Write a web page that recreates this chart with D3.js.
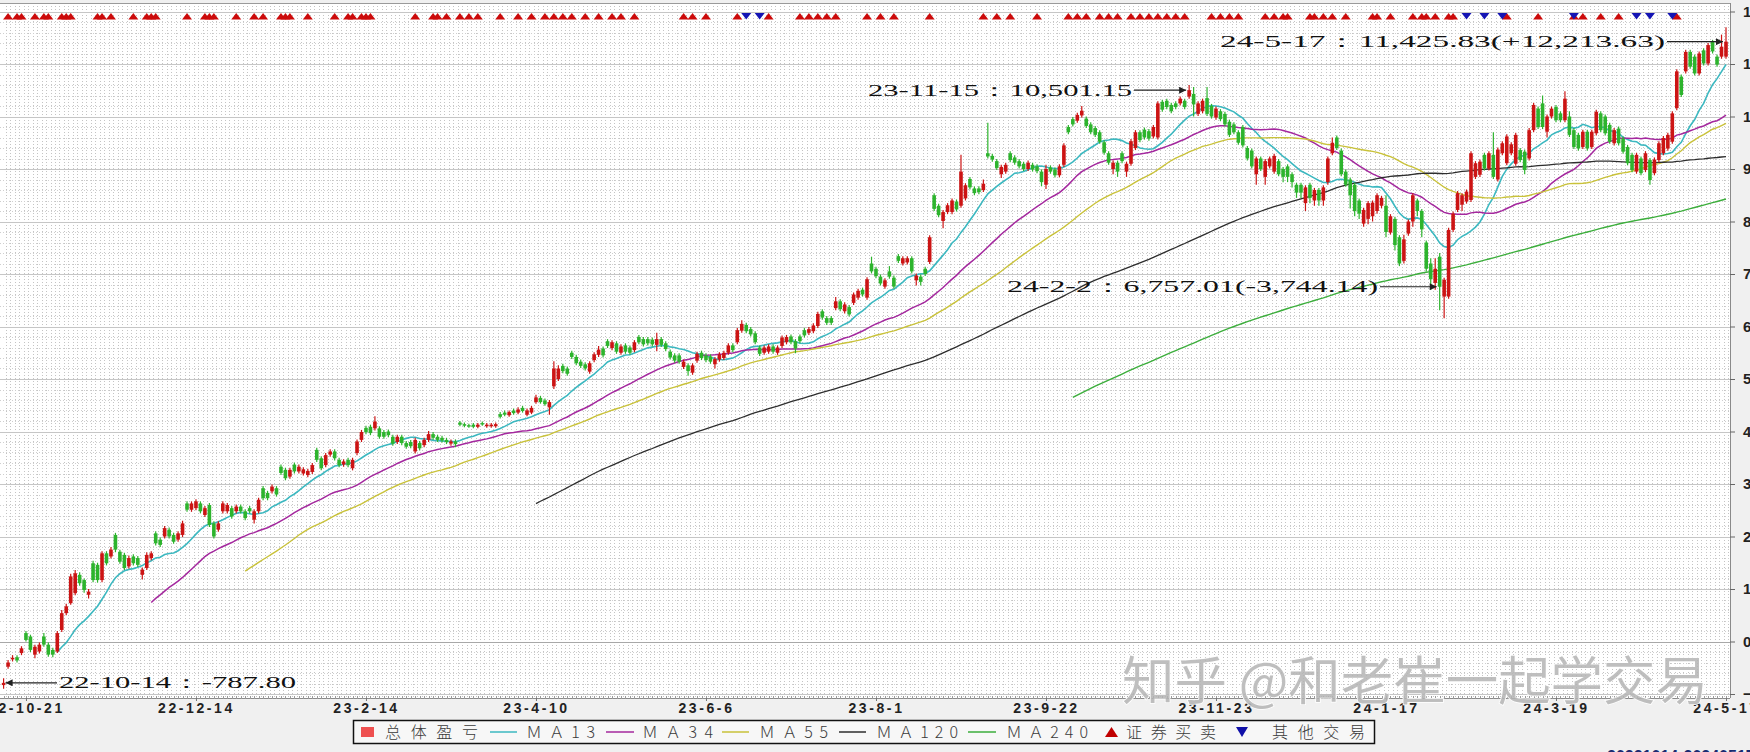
<!DOCTYPE html>
<html><head><meta charset="utf-8">
<script src="https://cdn.jsdelivr.net/npm/d3@7"></script>
<style>html,body{margin:0;padding:0;background:#f0f0f0;overflow:hidden}svg{display:block}</style>
</head><body><svg id="c" width="1750" height="752"></svg>
<script>
// ---------- data ----------
const openV=[
-830,-480,-340,-300,-220,160,95,-250,-190,95,
-60,-160,-190,220,540,730,920,1270,1170,890,
1490,1460,1170,1680,1620,2030,1710,1650,1430,1620,
1590,1270,1400,1590,2060,1940,2000,2130,2030,1940,
2030,2630,2510,2540,2630,2410,2600,2250,2130,2480,
2480,2540,2480,2570,2480,2540,2320,2480,2920,2830,
2860,2920,3330,3270,3140,3370,3240,3200,3170,3230,
3650,3490,3360,3560,3620,3460,3370,3460,3300,3590,
3840,4070,4090,4060,4060,3990,4000,3900,3800,3900,
3780,3800,3620,3780,3740,3840,3950,3900,3880,3840,
3770,3810,4170,4140,4120,4130,4090,4160,4100,4100,
4100,4330,4360,4310,4400,4360,4450,4320,4360,4560,
4640,4590,4460,4860,5000,5250,5200,5500,5420,5330,
5280,5140,5360,5460,5580,5720,5590,5680,5500,5640,
5600,5550,5800,5760,5760,5750,5650,5760,5680,5520,
5450,5450,5230,5260,5120,5350,5500,5450,5430,5280,
5370,5400,5500,5640,5700,5920,6030,5950,5870,5600,
5500,5520,5620,5500,5630,5700,5810,5720,5810,5930,
5880,5910,6010,6290,6160,6160,6350,6480,6290,6370,
6450,6550,6700,6550,7200,7100,6950,6760,7050,6930,
7340,7200,7220,7300,6880,6950,7100,7230,8500,8300,
8010,8180,8180,8380,8300,8440,8810,8630,8630,8600,
9300,9250,9150,8900,8950,9300,9220,9150,9100,9000,
9080,9050,8950,8700,9030,8990,8880,9080,9800,9950,
9920,10020,9960,9850,9780,9700,9510,9300,9000,9120,
9300,8950,9100,9400,9700,9750,9720,9620,9600,10280,
10300,10220,10250,10250,10300,10380,10430,10050,10100,10350,
10200,9980,10100,10050,9900,9850,9700,9800,9400,9350,
8900,9200,8850,9050,8950,9150,9000,9050,8900,8700,
8700,8350,8700,8400,8600,8400,8750,9300,9600,9350,
8950,8800,8700,8400,7960,8050,8100,8200,8300,8300,
7790,8050,7700,7250,7770,8000,8400,8200,7600,7200,
6830,7330,6570,6570,7840,8220,8320,8380,8410,8850,
8890,9270,9010,9270,8800,9300,9110,9300,9100,9360,
9330,9200,9740,10150,10250,9710,10000,10180,10060,9930,
10000,9740,9650,9420,9710,9420,9680,10060,10000,9840,
9490,9770,9580,9420,9270,8950,9200,8980,9170,8920,
9170,9300,9390,9520,10160,10760,10860,11230,11140,10820,
11260,11010,11420,11140,11140,11140];
const closeV=[
-787.8,-400,-310,-360,-130,30,-160,-100,-60,-60,
-250,-250,160,540,670,1240,1300,1110,980,950,
1170,1170,1680,1490,1750,1750,1520,1400,1590,1490,
1460,1370,1650,1680,1870,1840,2160,2000,1900,2060,
2250,2510,2630,2670,2480,2540,2220,2000,2250,2630,
2600,2380,2570,2480,2350,2480,2480,2700,2730,2730,
2950,2800,3210,3110,3270,3240,3330,3280,3250,3360,
3460,3300,3550,3620,3490,3360,3430,3360,3460,3810,
3990,3990,3970,4190,3900,3900,3930,3770,3900,3780,
3710,3720,3840,3680,3840,3950,3880,3840,3830,3800,
3810,3760,4130,4110,4100,4090,4130,4140,4130,4130,
4140,4280,4320,4370,4350,4420,4390,4400,4450,4650,
4560,4520,4560,5200,5200,5150,5100,5420,5300,5250,
5200,5300,5470,5560,5450,5630,5700,5520,5620,5520,
5500,5700,5700,5660,5680,5660,5760,5650,5570,5410,
5350,5330,5330,5150,5260,5480,5400,5360,5330,5380,
5470,5500,5640,5550,5930,6050,5910,5850,5700,5480,
5600,5620,5520,5600,5790,5800,5700,5580,5720,5830,
5950,6020,6240,6170,6070,6070,6480,6330,6420,6230,
6610,6680,6610,6900,7050,6960,6820,6880,6950,6760,
7250,7300,7300,7050,6970,6850,7000,7700,8240,8120,
8180,8310,8400,8230,8950,8690,8650,8540,8560,8720,
9240,9180,9020,9040,9080,9170,9120,9050,9000,9120,
8990,8960,8750,9000,8950,8880,9050,9450,9700,9850,
10030,10110,9820,9700,9650,9520,9310,9120,9120,8950,
9150,9100,9530,9700,9550,9600,9580,9800,10250,10130,
10180,10100,10180,10340,10180,10501.15,10230,10250,10300,10050,
10000,10150,9950,9850,9650,9700,9500,9450,9200,9050,
9200,9000,9150,9200,9250,8900,8850,8850,8750,8550,
8550,8650,8450,8600,8400,8650,9200,9500,9400,8900,
8700,8500,8200,8150,8220,8350,8360,8500,8450,7800,
8100,7550,7200,7660,8000,8500,8200,7850,7100,6900,
7100,6757.01,6890,7840,8150,8540,8500,8570,9300,9110,
9140,9010,9300,8850,9370,9490,9620,9470,9650,9170,
8980,9740,10220,9800,9800,10000,10150,9930,9930,10340,
9650,9420,9390,9710,9390,9710,10090,9740,9680,9520,
9740,9490,9330,9110,8980,9270,8920,9300,8790,9180,
9490,9590,9650,10060,10860,10410,11230,10950,10820,11200,
11010,11360,11240,10990,11330,11425.83];
const highV=[
-700,-350,-260,-260,-90,200,130,-60,-20,160,
-20,-120,200,600,720,1290,1360,1320,1200,1000,
1540,1500,1720,1720,1800,2070,1750,1690,1640,1660,
1630,1410,1700,1720,2100,1980,2200,2170,2070,2100,
2300,2670,2670,2710,2670,2580,2640,2290,2290,2670,
2640,2580,2610,2610,2520,2580,2520,2740,2960,2870,
2990,2960,3370,3310,3310,3410,3370,3320,3290,3400,
3690,3530,3590,3660,3660,3500,3470,3500,3500,3850,
4030,4110,4130,4290,4100,4030,4040,3940,3940,3940,
3820,3840,3880,3820,3880,4010,3990,3940,3920,3880,
3850,3850,4200,4170,4150,4160,4160,4190,4160,4160,
4170,4370,4400,4400,4440,4460,4490,4440,4490,4700,
4680,4630,4600,5340,5260,5290,5240,5540,5460,5370,
5320,5340,5510,5630,5620,5760,5740,5720,5660,5680,
5640,5740,5840,5800,5800,5790,5880,5800,5720,5560,
5490,5490,5370,5300,5300,5520,5540,5490,5470,5420,
5510,5540,5680,5680,5970,6120,6070,5990,5910,5640,
5640,5660,5660,5640,5830,5840,5850,5760,5850,5970,
5990,6060,6280,6330,6200,6200,6560,6520,6460,6410,
6650,6720,6740,6940,7330,7140,6990,6920,7150,6970,
7380,7340,7340,7340,7010,6990,7140,7740,8540,8340,
8220,8350,8440,8420,9270,8730,8850,8670,8670,8800,
9880,9290,9190,9080,9120,9340,9260,9190,9140,9160,
9120,9090,8990,9080,9070,9030,9090,9490,9840,9990,
10070,10200,10000,9890,9820,9740,9550,9340,9160,9160,
9340,9140,9570,9740,9740,9790,9760,9840,10290,10320,
10340,10260,10290,10380,10340,10600,10560,10290,10340,10560,
10240,10190,10140,10090,9940,9890,9740,9840,9440,9390,
9240,9240,9190,9240,9290,9190,9040,9090,8940,8740,
8740,8690,8740,8640,8640,8690,9240,9600,9640,9390,
8990,8840,8740,8440,8260,8390,8400,8540,8490,8500,
8140,8090,7740,7750,8040,8540,8440,8240,7640,7300,
7300,7400,6930,7880,8190,8580,8540,8610,9340,9150,
9180,9310,9340,9700,9410,9530,9660,9510,9690,9400,
9370,9780,10260,10190,10400,10040,10190,10220,10100,10480,
10100,9780,9690,9750,9750,9750,10130,10100,10040,9880,
9780,9810,9620,9460,9310,9310,9240,9340,9210,9220,
9530,9630,9690,10100,10900,10800,11270,11270,11180,11240,
11300,11400,11460,11180,11560,11700];
const lowV=[
-900,-520,-380,-400,-260,0,-200,-320,-230,-100,
-290,-300,-220,180,500,700,880,1060,930,820,
1130,1120,1130,1450,1580,1700,1480,1360,1390,1450,
1420,1180,1360,1550,1830,1800,1960,1960,1860,1900,
1990,2470,2470,2500,2440,2370,2180,1960,2090,2440,
2440,2340,2440,2440,2310,2440,2250,2440,2690,2690,
2820,2760,3170,3070,3100,3200,3200,3160,3130,3190,
3420,3260,3320,3520,3450,3320,3330,3320,3260,3550,
3800,3950,3930,4020,3860,3860,3890,3730,3760,3740,
3670,3680,3580,3640,3700,3800,3840,3800,3790,3760,
3730,3700,4100,4080,4070,4060,4060,4110,4070,4070,
4070,4250,4290,4280,4320,4330,4360,4290,4330,4530,
4530,4490,4320,4810,4960,5110,5060,5380,5260,5210,
5160,5100,5320,5420,5410,5590,5550,5480,5460,5480,
5460,5510,5660,5620,5640,5620,5530,5610,5530,5370,
5310,5290,5190,5060,5080,5310,5360,5320,5290,5200,
5330,5360,5460,5510,5660,5880,5870,5810,5660,5440,
5460,5480,5480,5460,5590,5660,5660,5490,5680,5790,
5840,5870,5970,6130,6030,6030,6310,6290,6250,6190,
6410,6510,6570,6510,7010,6920,6780,6720,6910,6720,
7210,7160,7180,7010,6780,6780,6960,7190,8200,8080,
7870,8140,8140,8190,8260,8400,8610,8500,8520,8560,
9200,9140,8980,8830,8910,9130,9080,9010,8960,8960,
8950,8920,8670,8620,8910,8840,8840,9040,9660,9810,
9880,9980,9780,9660,9610,9480,9270,9080,8900,8850,
9110,8850,9060,9360,9510,9560,9540,9580,9560,10090,
10140,10060,10140,10210,10140,10340,10000,10010,10060,10010,
9960,9940,9910,9810,9610,9660,9460,9410,9160,9010,
8700,8960,8700,9010,8910,8860,8750,8750,8650,8450,
8450,8200,8350,8300,8300,8300,8700,9260,9360,8860,
8660,8250,8100,8050,7900,7950,8000,8150,8250,7700,
7750,7450,7150,7200,7730,7900,8100,7700,7050,6700,
6700,6310,6155,6530,7800,8180,8200,8340,8370,8810,
8850,8970,8970,8810,8760,9260,9070,9260,9060,9130,
8900,9160,9700,9760,9760,9600,9960,9890,9890,9890,
9610,9380,9350,9380,9350,9380,9640,9700,9640,9480,
9450,9450,9290,9070,8940,8910,8880,8940,8700,8880,
9130,9260,9350,9480,10120,10370,10820,10910,10780,10780,
10970,10970,11200,10950,11100,11100];

const xTickIdx=[5,43,81,119,157,195,233,271,309,347,385];
const xTickLabels=["22-10-21","22-12-14","23-2-14","23-4-10","23-6-6","23-8-1","23-9-22","23-11-23","24-1-17","24-3-19","24-5-17"];
const yTicks=[-1000,0,1000,2000,3000,4000,5000,6000,7000,8000,9000,10000,11000,12000];
const maPeriods=[13,34,55,120,240];
const buyIdx=[1,3,4,7,9,10,13,14,15,21,22,24,29,32,33,34,41,45,46,47,52,56,58,62,63,64,68,74,77,78,80,81,82,92,96,97,99,
102,104,106,111,115,118,121,123,125,127,130,133,136,138,141,152,154,157,164,171,178,180,182,184,186,193,196,199,207,
219,222,225,231,238,240,242,245,247,249,252,254,256,258,260,262,264,270,272,274,276,282,284,286,287,
292,293,295,297,300,306,307,310,315,317,318,320,323,324,336,343,351,353,357,361,374];
const otherIdx=[166,169,327,331,335,351,365,368,373];
const annoIdx=[0,265,321,385];
const annoText=["22-10-14：-787.80","23-11-15：10,501.15","24-2-2：6,757.01(-3,744.14)","24-5-17：11,425.83(+12,213.63)"];
const legendLabels=["总体盈亏","ＭＡ13","ＭＡ34","ＭＡ55","ＭＡ120","ＭＡ240","证券买卖","其他交易"];

// ---------- drawing ----------
const W=1750,H=752;
const PL=0,PR=1730,PT=3,PB=698;
const svg=d3.select("#c");
const x=d3.scaleLinear().domain([0,385]).range([3.6,1726]);
const y=d3.scaleLinear().domain([-1000,12000]).range([694,11.5]);
const N=closeV.length;
const idx=d3.range(N);

svg.append("rect").attr("width",W).attr("height",H).attr("fill","#f0f0f0");
svg.append("rect").attr("x",PL).attr("y",PT).attr("width",PR-PL).attr("height",PB-PT).attr("fill","#ffffff");

const defs=svg.append("defs");
defs.append("clipPath").attr("id","pc").append("rect").attr("x",PL).attr("y",PT).attr("width",PR-PL).attr("height",PB-PT);

const grid=svg.append("g").attr("clip-path","url(#pc)");
grid.selectAll("line.v").data(idx).join("line").attr("class","v")
 .attr("x1",d=>Math.round(x(d)+2.2)+0.5).attr("x2",d=>Math.round(x(d)+2.2)+0.5)
 .attr("y1",PT).attr("y2",PB).attr("stroke","#c4c4c4").attr("stroke-width",1).attr("stroke-dasharray","1,2");
const minorY=d3.range(-1000,12201,200);
grid.selectAll("line.h").data(minorY).join("line").attr("class","h")
 .attr("x1",PL).attr("x2",PR).attr("y1",d=>Math.round(y(d))+0.5).attr("y2",d=>Math.round(y(d))+0.5)
 .attr("stroke","#cfcfcf").attr("stroke-width",1).attr("stroke-dasharray","1,2");
grid.selectAll("line.m").data(yTicks).join("line").attr("class","m")
 .attr("x1",PL).attr("x2",PR).attr("y1",d=>Math.round(y(d))+0.5).attr("y2",d=>Math.round(y(d))+0.5)
 .attr("stroke",d=>d===0?"#a8a8a8":"#c6c6c6").attr("stroke-width",1);

// moving averages computed from the closes
function ma(n){return idx.map(i=>i<n-1?null:d3.mean(closeV.slice(i-n+1,i+1)));}
const maColors=["#3cb8c0","#a4289e","#c9c23a","#2e2e2e","#3cae3c"];
const maWidths=[1.6,1.5,1.4,1.3,1.4];
const lines=svg.append("g").attr("clip-path","url(#pc)");
maPeriods.forEach((p,k)=>{
  const vals=ma(p);
  const ln=d3.line().defined(i=>vals[i]!==null).x(i=>x(i)).y(i=>y(vals[i]));
  lines.append("path").attr("d",ln(idx)).attr("fill","none").attr("stroke",maColors[k]).attr("stroke-width",maWidths[k]);
});

// candles
const up="#cc1414",dn="#2db42d";
const cg=svg.append("g").attr("clip-path","url(#pc)");
const col=i=>closeV[i]>=openV[i]?up:dn;
cg.selectAll("line.w").data(idx).join("line").attr("class","w")
 .attr("x1",i=>x(i)).attr("x2",i=>x(i)).attr("y1",i=>y(highV[i])).attr("y2",i=>y(lowV[i]))
 .attr("stroke",col).attr("stroke-width",1.2);
cg.selectAll("rect.b").data(idx).join("rect").attr("class","b")
 .attr("x",i=>x(i)-1.8).attr("width",3.6)
 .attr("y",i=>y(Math.max(openV[i],closeV[i])))
 .attr("height",i=>Math.max(1.4,Math.abs(y(openV[i])-y(closeV[i]))))
 .attr("fill",col);

// trade markers
const mg=svg.append("g").attr("clip-path","url(#pc)");
mg.selectAll("path.bu").data(buyIdx).join("path").attr("class","bu")
 .attr("d",i=>`M${x(i)-5},19.5L${x(i)},13L${x(i)+5},19.5Z`).attr("fill","#cc0a0a");
mg.selectAll("path.ot").data(otherIdx).join("path").attr("class","ot")
 .attr("d",i=>`M${x(i)-5},13L${x(i)+5},13L${x(i)},19.5Z`).attr("fill","#1414b4");

// borders
svg.append("line").attr("x1",PL).attr("x2",PR).attr("y1",PT+0.5).attr("y2",PT+0.5).attr("stroke","#9a9a9a");
svg.append("line").attr("x1",PR+0.5).attr("x2",PR+0.5).attr("y1",PT).attr("y2",PB).attr("stroke","#8a8a8a");
svg.append("line").attr("x1",PL).attr("x2",PR).attr("y1",PB+0.5).attr("y2",PB+0.5).attr("stroke","#8a8a8a");
svg.append("g").selectAll("line").data(idx).join("line")
 .attr("x1",i=>Math.round(x(i))+0.5).attr("x2",i=>Math.round(x(i))+0.5).attr("y1",PB-2).attr("y2",PB+1)
 .attr("stroke","#9a9a9a");

// y axis right
const ya=svg.append("g").attr("transform",`translate(${PR},0)`)
 .call(d3.axisRight(y).tickValues(yTicks).tickSize(5).tickPadding(8).tickFormat(d3.format(",")));
ya.select(".domain").remove();
ya.selectAll("line").attr("stroke","#666");
ya.selectAll("text").attr("font-family","Liberation Sans, Arial, sans-serif").attr("font-size",15).attr("font-weight","bold").attr("fill","#222");

// x axis
const xa=svg.append("g").attr("transform",`translate(0,${PB})`)
 .call(d3.axisBottom(x).tickValues(xTickIdx).tickSize(3).tickPadding(2).tickFormat((d,i)=>xTickLabels[i]));
xa.select(".domain").remove();
xa.selectAll("line").attr("stroke","#777");
xa.selectAll("text").attr("font-family","Liberation Sans, Arial, sans-serif").attr("font-size",14).attr("font-weight","bold")
 .attr("letter-spacing","2.6px").attr("fill","#222");

// annotations
const annoTextX=[59,868,1007,1220];
const annoTextLen=[237,264,371,445];
const ag=svg.append("g");
defs.append("marker").attr("id","ah").attr("viewBox","0 0 10 10").attr("refX",10).attr("refY",5)
 .attr("markerWidth",9).attr("markerHeight",7).attr("markerUnits","userSpaceOnUse").attr("orient","auto")
 .append("path").attr("d","M0,0L10,5L0,10Z").attr("fill","#222");
annoIdx.forEach((ix,k)=>{
  const yy=y(closeV[ix]);
  const right=k===0;
  const tip=right?x(ix)+2:x(ix)-3;
  const start=right?annoTextX[k]-2:annoTextX[k]+annoTextLen[k]+2;
  ag.append("line").attr("x1",start).attr("x2",tip).attr("y1",yy).attr("y2",yy)
    .attr("stroke","#222").attr("stroke-width",1.2).attr("marker-end","url(#ah)");
  ag.append("text").attr("x",annoTextX[k]).attr("y",yy+5.5).text(annoText[k])
    .attr("textLength",annoTextLen[k]).attr("lengthAdjust","spacingAndGlyphs")
    .attr("font-family","Liberation Serif, serif").attr("font-size",17).attr("fill","#111");
});

// legend
const lg=svg.append("g");
lg.append("rect").attr("x",353.5).attr("y",720.5).attr("width",1021).attr("height",23).attr("fill","#f7f7f7").attr("stroke","#111").attr("stroke-width",1.5);
const ly=732;
lg.append("rect").attr("x",361).attr("y",727).attr("width",13).attr("height",10).attr("fill","#ee5050");
const symX=[null,[490,517],[606,634],[722,749],[839,866],[968,996]];
for(let k=1;k<=5;k++){
  lg.append("line").attr("x1",symX[k][0]).attr("x2",symX[k][1]).attr("y1",ly).attr("y2",ly).attr("stroke",maColors[k-1]).attr("stroke-width",1.5);
}
lg.append("path").attr("d",`M1105,737L1111.5,727L1118,737Z`).attr("fill","#c00000");
lg.append("path").attr("d",`M1236,727L1248,727L1242,737Z`).attr("fill","#1010a8");
const textX=[385,526,642,759,876,1006,1126,1272];
const textLen=[93,69,71,69,82,82,90,93];
legendLabels.forEach((t,k)=>{
  lg.append("text").attr("x",textX[k]).attr("y",ly+6).text(t)
   .attr("textLength",textLen[k]).attr("lengthAdjust","spacing")
   .attr("font-family","Noto Sans CJK SC, sans-serif").attr("font-size",16).attr("font-weight",300).attr("fill","#3a3a3a");
});

// footer text (cut at bottom)
svg.append("text").attr("x",1607).attr("y",762).text("20221014-20240517")
 .attr("font-family","Liberation Sans, Arial, sans-serif").attr("font-size",16).attr("font-weight","bold").attr("fill","#1a2a70");

// watermark
svg.append("text").attr("x",1122).attr("y",700).text("知乎 @和老崔一起学交易")
 .attr("font-family","Noto Sans CJK SC, sans-serif").attr("font-size",52).attr("textLength",586).attr("lengthAdjust","spacingAndGlyphs")
 .attr("fill","#b4b4b4").attr("fill-opacity",0.85).attr("stroke","#ffffff").attr("stroke-width",1.5).attr("paint-order","stroke");
</script></body></html>
